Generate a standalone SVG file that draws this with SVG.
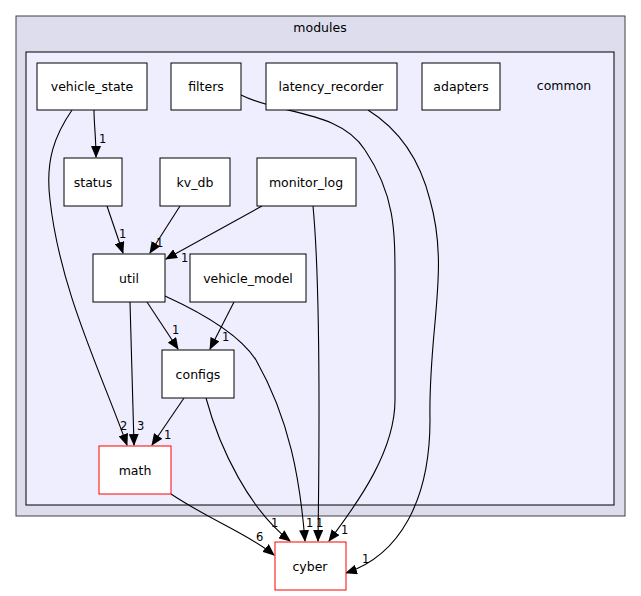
<svg xmlns="http://www.w3.org/2000/svg" width="641" height="596" viewBox="0 0 641 596">
<style>
text{font-family:"DejaVu Sans",sans-serif;font-size:12.5px;fill:#000}
.n rect{fill:#fff;stroke:#000}
.r rect{stroke:#ff0000}
.n text{text-anchor:middle}
.e path{fill:none;stroke:#000;stroke-width:1.1;marker-end:url(#a)}
.e text{font-size:11.5px}
</style>
<defs><marker id="a" markerWidth="12" markerHeight="10" refX="11" refY="5" orient="auto" markerUnits="userSpaceOnUse"><path d="M0,0L12,5L0,10z" fill="#000"/></marker></defs>
<g id="modules"><rect x="16" y="16" width="609" height="500" fill="#ddddee" stroke="#404040"/><text x="320" y="32" text-anchor="middle">modules</text></g>
<g id="common"><rect x="26" y="52" width="588" height="453" fill="#eeeeff" stroke="#000"/><text x="564" y="90" text-anchor="middle">common</text></g>
<g class="e">
<path d="M94,110C94,124 96,138 96,157"/><text x="99" y="143">1</text>
<path d="M72,110C55,135 45,160 50,200C60,290 100,370 127,445"/><text x="120" y="430">2</text>
<path d="M107,206L123,253"/><text x="119" y="238">1</text>
<path d="M180,206L150,253"/><text x="156" y="247">1</text>
<path d="M262,206L166,259"/><text x="181" y="262">1</text>
<path d="M147,302L178,349"/><text x="172" y="334">1</text>
<path d="M130,302L134,445"/><text x="137" y="430">3</text>
<path d="M165,296C200,312 240,335 256,360C290,420 300,480 305,541"/><text x="306" y="527">1</text>
<path d="M234,302L210,349"/><text x="222" y="341">1</text>
<path d="M184,398L152,445"/><text x="164" y="439">1</text>
<path d="M206,398C220,450 250,510 290,541"/><text x="271" y="527">1</text>
<path d="M313,206C320,280 320,400 318,541"/><text x="316" y="527">1</text>
<path d="M241,95C280,115 340,110 365,150C395,195 395,230 395,280C395,320 395,360 395,400C395,450 360,500 329,541"/><text x="341" y="534">1</text>
<path d="M368,110C400,130 420,160 430,200C450,270 428,330 430,420C430,500 400,555 346,573"/><text x="362" y="563">1</text>
<path d="M171,494C210,520 250,535 274,555"/><text x="256" y="541">6</text>
</g>
<g id="vehicle_state" class="n"><rect x="37" y="63" width="110" height="47"/><text x="92" y="91">vehicle_state</text></g>
<g id="filters" class="n"><rect x="171" y="63" width="70" height="47"/><text x="206" y="91">filters</text></g>
<g id="latency_recorder" class="n"><rect x="266" y="63" width="131" height="47"/><text x="331" y="91">latency_recorder</text></g>
<g id="adapters" class="n"><rect x="422" y="63" width="78" height="47"/><text x="461" y="91">adapters</text></g>
<g id="status" class="n"><rect x="64" y="158" width="58" height="48"/><text x="93" y="187">status</text></g>
<g id="kv_db" class="n"><rect x="160" y="158" width="70" height="48"/><text x="195" y="187">kv_db</text></g>
<g id="monitor_log" class="n"><rect x="257" y="158" width="99" height="48"/><text x="306" y="187">monitor_log</text></g>
<g id="util" class="n"><rect x="93" y="254" width="72" height="48"/><text x="129" y="283">util</text></g>
<g id="vehicle_model" class="n"><rect x="190" y="254" width="116" height="48"/><text x="248" y="283">vehicle_model</text></g>
<g id="configs" class="n"><rect x="162" y="350" width="72" height="48"/><text x="198" y="379">configs</text></g>
<g id="math" class="n r"><rect x="99" y="446" width="72" height="48"/><text x="135" y="475">math</text></g>
<g id="cyber" class="n r"><rect x="275" y="542" width="71" height="48"/><text x="310" y="571">cyber</text></g>
</svg>
